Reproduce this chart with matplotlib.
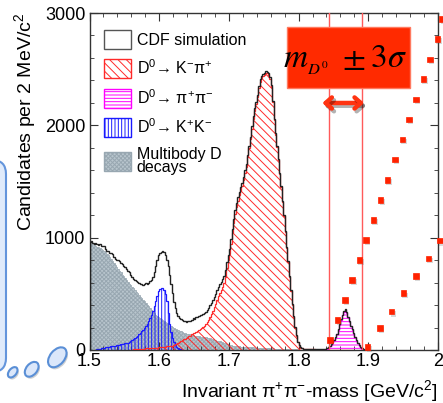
import numpy as np
import matplotlib.pyplot as plt
import matplotlib.patheffects as pe
from matplotlib.patches import Patch, FancyBboxPatch, Ellipse
from matplotlib.transforms import IdentityTransform

plt.rcParams['font.family'] = ['Liberation Sans', 'DejaVu Sans']
plt.rcParams['mathtext.fontset'] = 'custom'
plt.rcParams['mathtext.rm'] = 'Liberation Sans'
plt.rcParams['mathtext.it'] = 'Liberation Sans:italic'
plt.rcParams['hatch.linewidth'] = 0.7

W, H = 443, 403
bin_w = 0.002

# histogram contents, 2 MeV bins, first bin left edge given by *_start
total_start = 1.500
total = [962, 970, 955, 948, 951, 940, 936, 944, 928, 930,
         922, 895, 878, 882, 866, 860, 851, 830, 812, 805,
         798, 790, 772, 765, 748, 740, 722, 705, 690, 668,
         648, 632, 622, 612, 604, 598, 590, 584, 580, 586,
         592, 590, 600, 612, 625, 650, 692, 745, 800, 842,
         866, 872, 880, 868, 846, 800, 745, 670, 590, 505,
         430, 372, 330, 300, 285, 272, 268, 262, 258, 252,
         255, 262, 258, 270, 282, 278, 290, 295, 302, 308,
         315, 322, 330, 342, 356, 375, 398, 420, 445, 472,
         500, 530, 560, 585, 605, 630, 660, 710, 780, 850,
         900, 990, 1080, 1170, 1250, 1310, 1360, 1410, 1450, 1490,
         1540, 1600, 1660, 1740, 1820, 1900, 1990, 2080, 2150, 2210,
         2270, 2350, 2410, 2440, 2455, 2470, 2485, 2478, 2462, 2430,
         2360, 2220, 2060, 1930, 1820, 1700, 1580, 1460, 1330, 1200,
         1060, 920, 790, 660, 530, 410, 300, 205, 130, 75,
         42, 26, 18, 13, 10, 9, 8, 8, 7, 7,
         7, 6, 6, 6, 7, 6, 7, 8, 9, 10,
         14, 24, 38, 54, 71, 91, 116, 146, 186, 231,
         274, 316, 344, 361, 336, 296, 256, 216, 184, 151,
         118, 88, 64, 44, 28, 16, 10, 4, 2, 1]

kpi_start = 1.560
kpi = [4, 5, 6, 7, 8, 9, 10, 11, 12, 13,
       14, 15, 16, 17, 18, 19, 20, 21, 22, 23,
       24, 25, 26, 28, 30, 32, 34, 36, 38, 40,
       44, 50, 56, 62, 70, 78, 86, 94, 100, 106,
       113, 124, 123, 138, 152, 150, 164, 171, 180, 188,
       197, 206, 216, 230, 246, 268, 294, 320, 349, 380,
       412, 446, 480, 509, 533, 562, 596, 652, 726, 800,
       854, 947, 1040, 1132, 1214, 1276, 1327, 1378, 1419, 1460,
       1511, 1572, 1633, 1714, 1794, 1875, 1966, 2057, 2128, 2188,
       2249, 2330, 2390, 2421, 2437, 2452, 2468, 2462, 2446, 2415,
       2345, 2206, 2047, 1917, 1808, 1688, 1569, 1449, 1320, 1190,
       1051, 911, 782, 652, 523, 403, 294, 199, 125, 70,
       38, 22, 15, 10, 8, 7, 6, 6, 5, 5,
       5, 5, 4, 4, 4, 4, 4, 4, 4, 4,
       4, 4, 3, 3, 3, 3, 3, 2, 2, 2,
       2, 2, 2, 2, 2, 1, 1, 1, 1, 1]

pipi_start = 1.840
pipi = [8, 18, 32, 48, 65, 85, 110, 140, 180, 225,
        268, 310, 338, 355, 330, 290, 250, 210, 178, 145,
        112, 82, 58, 38, 22, 10, 4]

kk_start = 1.510
kk = [5, 8, 10, 14, 18,
      22, 24, 26, 28, 30, 33, 36, 38, 40, 42,
      45, 47, 50, 52, 55, 58, 62, 66, 72, 80,
      88, 96, 104, 114, 126, 138, 152, 166, 182, 200,
      215, 235, 260, 285, 315, 350, 395, 440, 485, 525,
      545, 555, 552, 530, 495, 440, 330, 230, 160, 110,
      72, 45, 28, 16, 9, 5, 3]

multi_start = 1.500
multi = [950, 946, 940, 932, 928, 920, 914, 906, 898, 890,
         880, 868, 855, 842, 828, 812, 795, 776, 758, 740,
         722, 705, 690, 672, 655, 638, 620, 604, 590, 576,
         560, 548, 532, 518, 504, 490, 476, 462, 448, 432,
         418, 402, 390, 374, 360, 346, 330, 316, 304, 292,
         282, 272, 264, 256, 248, 240, 232, 222, 214, 206,
         198, 190, 184, 178, 172, 166, 160, 155, 150, 146,
         142, 138, 135, 132, 130, 128, 126, 124, 122, 120,
         118, 116, 114, 112, 110, 107, 104, 100, 96, 92,
         88, 84, 80, 76, 72, 68, 64, 58, 54, 50,
         46, 43, 40, 38, 36, 34, 33, 32, 31, 30,
         29, 28, 27, 26, 26, 25, 24, 23, 22, 22,
         21, 20, 20, 19, 18, 18, 17, 16, 16, 15,
         15, 14, 13, 13, 12, 12, 11, 11, 10, 10,
         9, 9, 8, 8, 7, 7, 6, 6, 5, 5,
         4, 4, 3, 3, 2, 2, 1, 1, 1, 0]

# mass window lines (GeV/c^2)
window = [1.843, 1.891]

# red dotted guide curves (mass, counts)
dots1_x = [1.8450, 1.8561, 1.8666, 1.8770, 1.8871, 1.8967, 1.9072, 1.9178, 1.9273,
           1.9383, 1.9488, 1.9584, 1.9684, 1.9789, 1.9885, 1.9990, 2.0053]
dots1_y = [89, 267, 445, 623, 801, 979, 1157, 1335, 1513,
           1697, 1875, 2053, 2231, 2412, 2588, 2769, 2947]
dots2_x = [1.8991, 1.9168, 1.9336, 1.9502, 1.9684, 1.9861, 2.0029]
dots2_y = [29, 196, 341, 505, 659, 816, 973]

labels = ['CDF simulation',
          r'D$^{0}$→ K$^{-}$π$^{+}$',
          r'D$^{0}$→ π$^{+}$π$^{-}$',
          r'D$^{0}$→ K$^{+}$K$^{-}$',
          'Multibody D\ndecays']

red = '#ff2a2a'
mag = '#ff00ff'
blue = '#1a1aff'
gface = '#b8c5cd'
gedge = '#98a7b1'


def edges(start, vals):
    return start + bin_w * np.arange(len(vals) + 1)


fig = plt.figure(figsize=(W / 100, H / 100), dpi=100)
ax = fig.add_axes([89.5 / W, 53 / H, 348.5 / W, 337 / H])

ax.stairs(multi, edges(multi_start, multi), fill=True, facecolor=gface,
          edgecolor=gedge, hatch='xxxxxxxx', lw=0.5, zorder=1)
ax.stairs(kk, edges(kk_start, kk), fill=True, facecolor='none',
          edgecolor=blue, hatch='|||||', lw=0.9, zorder=2)
ax.stairs(kpi, edges(kpi_start, kpi), fill=True, facecolor='none',
          edgecolor=red, hatch='\\\\\\\\', lw=0.9, zorder=3)
ax.stairs(pipi, edges(pipi_start, pipi), fill=True, facecolor='none',
          edgecolor=mag, hatch='-----', lw=0.9, zorder=3)
ax.stairs(total, edges(total_start, total), color='#222222', lw=1.0, zorder=4)

for xv in window:
    ax.axvline(xv, color='#ff5a5a', lw=1.0, zorder=5)

shadow = [pe.SimplePatchShadow(offset=(1.2, -1.6), shadow_rgbFace='#555555', alpha=0.22), pe.Normal()]
for dx, dy in [(dots1_x, dots1_y), (dots2_x, dots2_y)]:
    ax.plot(dx, dy, ls='none', marker='s', ms=4.0, color='#ff2200', mec='#ff2200', mew=0.5,
            clip_on=False, zorder=6, path_effects=shadow)

ax.annotate('', xy=(1.894, 2199), xytext=(1.834, 2199), annotation_clip=False,
            arrowprops=dict(arrowstyle='<->,head_length=0.45,head_width=0.4',
                            color='#ff3311', lw=3.2, shrinkA=0, shrinkB=0,
                            path_effects=[pe.SimpleLineShadow(offset=(1.5, -2), alpha=0.3),
                                          pe.Normal()]),
            zorder=7)

ax.set_xlim(1.5, 2.0)
ax.set_ylim(0, 3000)
ax.set_xticks([1.5, 1.6, 1.7, 1.8, 1.9, 2.0])
ax.set_xticklabels(['1.5', '1.6', '1.7', '1.8', '1.9', '2'])
ax.set_xticks(np.arange(1.5, 2.0001, 0.02), minor=True)
ax.set_yticks([0, 1000, 2000, 3000])
ax.set_yticks(np.arange(0, 3001, 200), minor=True)
ax.tick_params(which='both', direction='in', top=True, right=True, color='#333333')
ax.tick_params(which='major', length=5.5, labelsize=13, pad=2)
ax.tick_params(which='minor', length=2.8)
ax.tick_params(axis='y', pad=3)
for s in ax.spines.values():
    s.set_color('#333333')
    s.set_linewidth(1.0)

ax.set_xlabel(r'Invariant π$^{+}$π$^{-}$-mass [GeV/c$^{2}$]', loc='right', fontsize=14, labelpad=6)
ax.set_ylabel(r'Candidates per 2 MeV/c$^{2}$', loc='top', fontsize=14, labelpad=5)

handles = [Patch(facecolor='white', edgecolor='#555555', lw=1),
           Patch(facecolor='white', edgecolor=red, hatch='\\\\\\\\', lw=1),
           Patch(facecolor='white', edgecolor=mag, hatch='-----', lw=1),
           Patch(facecolor='white', edgecolor=blue, hatch='|||||', lw=1),
           Patch(facecolor=gface, edgecolor=gedge, hatch='xxxxxxxx', lw=1)]
leg = ax.legend(handles, labels, loc='upper left', bbox_to_anchor=(104 / W, 1 - 30 / H),
                bbox_transform=fig.transFigure, frameon=False, fontsize=11.5,
                handlelength=1.7, handleheight=1.45, handletextpad=0.35,
                labelspacing=0.6, borderpad=0, borderaxespad=0)
leg.get_texts()[4].set_linespacing(0.85)

# decorations in pixel coordinates (origin bottom-left)
ident = IdentityTransform()
box = FancyBboxPatch((287, H - 88), 123, 61, boxstyle='square,pad=0',
                     facecolor='#ff2a00', edgecolor='#ff7a60', lw=1, transform=ident, zorder=8)
fig.patches.append(box)
fig.text(345 / W, 1 - 60 / H, r'$m_{_{D^0}}\ \pm 3\sigma$', ha='center', va='center',
         fontsize=24, math_fontfamily='stix', zorder=9)

panel = FancyBboxPatch((-40, H - 372), 46, 212, boxstyle='round,pad=0,rounding_size=14',
                       facecolor='#e0ebfb', edgecolor='#6495dc', lw=1.5, transform=ident)
fig.patches.append(panel)
for cx, cy, w, h in [(12.7, 372.3, 12, 7.5), (31.7, 369.3, 17, 11), (57.3, 357.3, 23, 14.5)]:
    e = Ellipse((cx, H - cy), w, h, angle=50, facecolor='#dbe7fa', edgecolor='#5a8fd6',
                lw=1.5, transform=ident,
                path_effects=[pe.SimplePatchShadow(offset=(1, -1.5), alpha=0.25), pe.Normal()])
    fig.patches.append(e)

fig.savefig('out.png', dpi=100)
